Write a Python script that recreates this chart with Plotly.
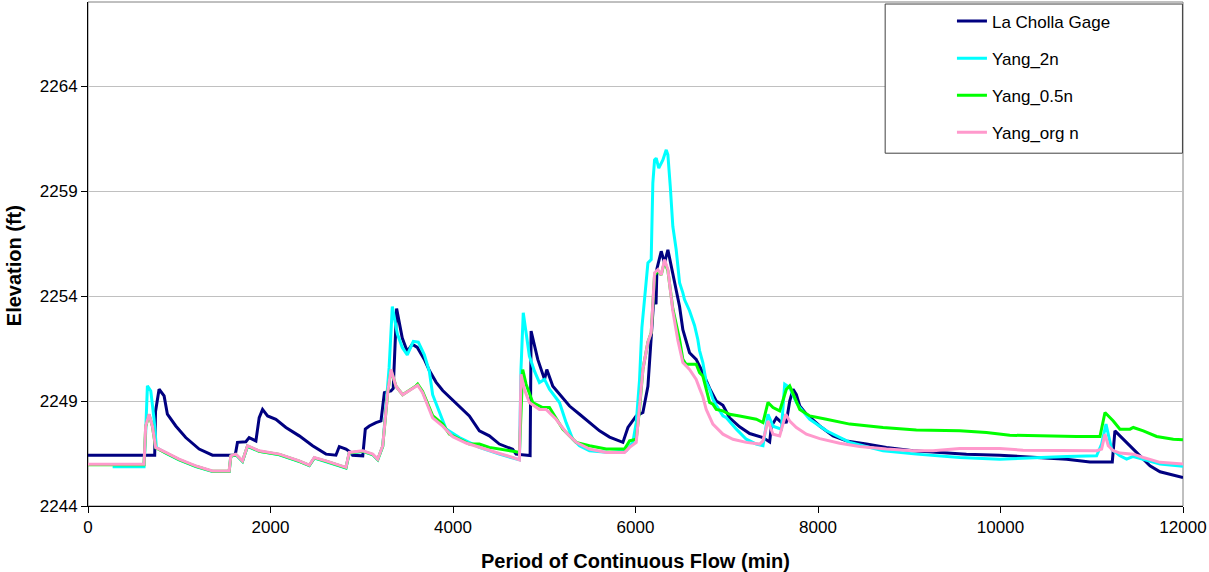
import plotly.graph_objects as go

# ---------------- data ----------------
gage_x = [0, 731, 740, 779, 834, 870, 962, 1071, 1218, 1364, 1613, 1638, 1730, 1766, 1840, 1876, 1913, 1968,
          2059, 2169, 2315, 2461, 2608, 2717, 2754, 2827, 2882, 2900, 3011, 3039, 3083, 3156, 3211, 3248, 3320,
          3345, 3382, 3444, 3499, 3554, 3609, 3686, 3741, 3814, 3887, 3960, 4069, 4179, 4289, 4398, 4508, 4654,
          4691, 4818, 4845, 4856, 4929, 5003, 5028, 5094, 5167, 5277, 5387, 5496, 5606, 5716, 5862, 5917, 6008,
          6081, 6136, 6190, 6215, 6225, 6235, 6282, 6318, 6355, 6409, 6483, 6519, 6592, 6665, 6738, 6812, 6885,
          6958, 7031, 7141, 7251, 7397, 7470, 7489, 7544, 7599, 7653, 7690, 7727, 7763, 7800, 7873, 8019, 8165,
          8311, 8530, 8750, 9042, 9334, 9627, 9992, 10358, 10724, 10980, 11225, 11254, 11309, 11419, 11528,
          11638, 11748, 11894, 12000]
gage_y = [2246.42, 2246.42, 2248.5, 2249.56, 2249.24, 2248.37, 2247.81, 2247.26, 2246.71, 2246.42, 2246.42,
          2247.03, 2247.06, 2247.26, 2247.1, 2248.21, 2248.6, 2248.29, 2248.13, 2247.74, 2247.34, 2246.87,
          2246.47, 2246.42, 2246.83, 2246.71, 2246.55, 2246.42, 2246.39, 2247.66, 2247.81, 2247.97, 2248.05,
          2249.4, 2249.48, 2249.6, 2253.4, 2252.0, 2251.36, 2251.7, 2251.55, 2250.98, 2250.45, 2249.9, 2249.5,
          2249.2, 2248.76, 2248.29, 2247.58, 2247.34, 2246.95, 2246.7, 2246.47, 2246.4, 2246.4, 2252.33,
          2250.98, 2250.03, 2250.5, 2249.7, 2249.32, 2248.76, 2248.37, 2247.99, 2247.58, 2247.28, 2247.03,
          2247.74, 2248.29, 2248.45, 2249.7, 2253.2, 2255.0, 2253.6, 2255.3, 2256.13, 2255.58, 2256.2, 2255.1,
          2253.5, 2252.4, 2251.3, 2250.98, 2250.35, 2249.6, 2249.0, 2248.8, 2248.2, 2247.77, 2247.45, 2247.26,
          2247.05, 2247.8, 2248.2, 2247.98, 2248.0, 2249.0, 2249.56, 2249.3, 2248.76, 2248.37, 2247.81,
          2247.34, 2247.1, 2246.95, 2246.79, 2246.63, 2246.55, 2246.47, 2246.42, 2246.31, 2246.23, 2246.1,
          2246.1, 2247.58, 2247.34, 2246.87, 2246.39, 2245.91, 2245.63, 2245.47, 2245.36]

yang2n_x = [270, 614, 632, 651, 688, 724, 749, 852, 998, 1181, 1364, 1547, 1565, 1620, 1693, 1748, 1876, 2096,
            2315, 2425, 2480, 2608, 2790, 2827, 2863, 3011, 3120, 3175, 3230, 3266, 3300, 3335, 3390, 3444,
            3499, 3565, 3620, 3686, 3741, 3777, 3850, 3924, 4070, 4289, 4508, 4691, 4728, 4745, 4770, 4801,
            4837, 4892, 4947, 5003, 5057, 5167, 5240, 5313, 5386, 5496, 5716, 5898, 5971, 6008, 6044, 6070,
            6099, 6136, 6172, 6190, 6209, 6227, 6255, 6300, 6337, 6355, 6381, 6409, 6446, 6483, 6519, 6537,
            6592, 6647, 6683, 6702, 6738, 6775, 6812, 6848, 6885, 6958, 6995, 7105, 7214, 7324, 7397, 7452,
            7507, 7562, 7599, 7635, 7690, 7763, 7800, 7910, 8092, 8348, 8713, 9078, 9553, 9992, 10358, 10724,
            11053, 11108, 11156, 11218, 11309, 11382, 11455, 11565, 11748, 12000]
yang2n_y = [2245.87, 2245.87, 2247.5, 2249.72, 2249.48, 2248.13, 2246.79, 2246.52, 2246.2, 2245.88, 2245.64,
            2245.64, 2246.36, 2246.44, 2246.12, 2246.84, 2246.6, 2246.44, 2246.12, 2245.92, 2246.28, 2246.12,
            2245.86, 2245.81, 2246.52, 2246.6, 2246.44, 2246.2, 2246.84, 2248.93, 2250.6, 2253.5, 2252.2,
            2251.55, 2251.2, 2251.84, 2251.8, 2251.2, 2250.4, 2249.3, 2248.45, 2247.66, 2247.26, 2246.79,
            2246.47, 2246.23, 2246.2, 2250.5, 2253.2, 2252.25, 2251.14, 2250.43, 2249.88, 2250.03, 2249.56,
            2248.93, 2247.97, 2247.18, 2246.87, 2246.63, 2246.55, 2246.63, 2247.03, 2247.97, 2250.0, 2252.5,
            2253.9, 2255.57, 2255.73, 2259.38, 2260.48, 2260.56, 2260.09, 2260.48, 2260.96, 2260.72, 2259.22,
            2257.32, 2256.2, 2254.63, 2254.15, 2253.83, 2253.3, 2252.6, 2251.93, 2251.4, 2250.83, 2249.9,
            2249.56, 2249.1, 2248.8, 2248.29, 2248.2, 2247.66, 2247.18, 2246.95, 2246.87, 2248.37, 2247.8,
            2247.7, 2247.66, 2249.8, 2249.64, 2248.93, 2248.69, 2248.13, 2247.58, 2247.03, 2246.63, 2246.47,
            2246.31, 2246.23, 2246.31, 2246.36, 2246.39, 2246.95, 2247.9, 2246.71, 2246.39, 2246.23, 2246.36,
            2246.23, 2246.0, 2245.89]

yang05n_x = [0, 614, 632, 669, 706, 742, 852, 998, 1181, 1364, 1547, 1565, 1620, 1693, 1748, 1876, 2096, 2315,
             2425, 2480, 2608, 2790, 2827, 2863, 3011, 3120, 3175, 3230, 3284, 3320, 3375, 3448, 3521, 3594,
             3613, 3667, 3777, 3887, 3960, 4179, 4289, 4398, 4691, 4728, 4764, 4801, 4874, 4983, 5057, 5203,
             5349, 5496, 5679, 5880, 5935, 6008, 6044, 6081, 6136, 6172, 6209, 6246, 6282, 6318, 6355, 6409,
             6483, 6519, 6555, 6665, 6702, 6738, 6775, 6812, 6848, 6885, 6958, 7031, 7141, 7324, 7397, 7452,
             7507, 7580, 7653, 7690, 7800, 7910, 8092, 8348, 8713, 9078, 9553, 9846, 10102, 10358, 10833,
             11090, 11145, 11236, 11309, 11419, 11455, 11565, 11711, 11894, 12000]
yang05n_y = [2245.97, 2245.97, 2247.78, 2248.35, 2247.79, 2246.77, 2246.53, 2246.21, 2245.89, 2245.65,
             2245.65, 2246.37, 2246.45, 2246.13, 2246.85, 2246.61, 2246.45, 2246.13, 2245.93, 2246.29,
             2246.13, 2245.87, 2245.82, 2246.53, 2246.61, 2246.45, 2246.21, 2246.85, 2249.38, 2250.48,
             2249.7, 2249.3, 2249.5, 2249.72, 2249.8, 2249.45, 2248.3, 2247.9, 2247.42, 2246.95, 2246.95,
             2246.79, 2246.58, 2246.55, 2250.5, 2249.8, 2248.93, 2248.69, 2248.69, 2247.66, 2247.03, 2246.87,
             2246.71, 2246.71, 2247.1, 2247.18, 2248.6, 2250.5, 2251.8, 2252.25, 2255.0, 2255.2, 2255.0,
             2255.65, 2255.2, 2253.4, 2251.93, 2250.98, 2250.75, 2250.75, 2250.35, 2250.19, 2249.56, 2248.93,
             2248.85, 2248.6, 2248.53, 2248.37, 2248.29, 2248.13, 2247.97, 2248.93, 2248.69, 2248.53, 2249.56,
             2249.72, 2248.6, 2248.29, 2248.13, 2247.9, 2247.74, 2247.62, 2247.58, 2247.5, 2247.37, 2247.34,
             2247.31, 2247.31, 2248.45, 2248.05, 2247.66, 2247.66, 2247.74, 2247.58, 2247.31, 2247.18, 2247.15]

yangorg_x = [0, 614, 632, 669, 706, 742, 852, 998, 1181, 1364, 1547, 1565, 1620, 1693, 1748, 1876, 2096, 2315,
             2425, 2480, 2608, 2790, 2827, 2863, 3011, 3120, 3175, 3230, 3284, 3320, 3375, 3448, 3521, 3594,
             3613, 3667, 3777, 3887, 3997, 4143, 4289, 4472, 4655, 4728, 4745, 4782, 4837, 4947, 5020, 5130,
             5240, 5349, 5496, 5679, 5880, 5935, 6008, 6044, 6081, 6136, 6172, 6209, 6246, 6282, 6318, 6355,
             6409, 6464, 6519, 6592, 6665, 6702, 6738, 6775, 6848, 6958, 7068, 7214, 7361, 7397, 7452, 7507,
             7580, 7646, 7690, 7763, 7873, 8019, 8238, 8457, 8750, 9042, 9261, 9553, 9992, 10247, 10724, 11053,
             11108, 11145, 11181, 11236, 11309, 11455, 11565, 11748, 12000]
yangorg_y = [2245.99, 2245.99, 2247.8, 2248.37, 2247.81, 2246.79, 2246.55, 2246.23, 2245.91, 2245.67, 2245.67,
             2246.39, 2246.47, 2246.15, 2246.87, 2246.63, 2246.47, 2246.15, 2245.95, 2246.31, 2246.15, 2245.89,
             2245.84, 2246.55, 2246.63, 2246.47, 2246.23, 2246.87, 2249.4, 2250.5, 2249.7, 2249.3, 2249.5,
             2249.7, 2249.75, 2249.4, 2248.2, 2247.8, 2247.3, 2247.0, 2246.79, 2246.55, 2246.31, 2246.2,
             2250.27, 2249.56, 2248.93, 2248.6, 2248.6, 2248.13, 2247.5, 2247.03, 2246.71, 2246.55, 2246.55,
             2246.79, 2247.03, 2248.6, 2250.5, 2251.8, 2252.25, 2255.1, 2255.26, 2255.0, 2255.73, 2255.26,
             2253.3, 2251.9, 2250.83, 2250.5, 2250.03, 2249.6, 2249.2, 2248.6, 2247.9, 2247.42, 2247.18,
             2247.03, 2246.95, 2247.1, 2248.05, 2247.42, 2247.34, 2248.37, 2248.05, 2247.74, 2247.42, 2247.21,
             2246.99, 2246.83, 2246.71, 2246.63, 2246.63, 2246.74, 2246.74, 2246.66, 2246.63, 2246.63, 2246.71,
             2247.42, 2246.87, 2246.63, 2246.52, 2246.47, 2246.31, 2246.08, 2246.0]

series_names = ["La Cholla Gage", "Yang_2n", "Yang_0.5n", "Yang_org n"]
series_colors = ["#000080", "#00FFFF", "#00FF00", "#FF99CC"]
x_ticks = [0, 2000, 4000, 6000, 8000, 10000, 12000]
y_ticks = [2244, 2249, 2254, 2259, 2264]

# ---------------- figure ----------------
FONT = "Liberation Sans, Arial, sans-serif"
fig = go.Figure()
all_x = [gage_x, yang2n_x, yang05n_x, yangorg_x]
all_y = [gage_y, yang2n_y, yang05n_y, yangorg_y]
for i, (name, color) in enumerate(zip(series_names, series_colors)):
    fig.add_trace(go.Scatter(x=all_x[i], y=all_y[i], mode="lines", name=name,
                             legendgroup=f"g{i}",
                             line=dict(color=color, width=3)))

fig.update_layout(
    width=1209, height=572,
    margin=dict(l=88, r=26, t=2, b=66),
    paper_bgcolor="white", plot_bgcolor="white",
    font=dict(family=FONT, size=17, color="black"),
    showlegend=True,
    legend=dict(x=0.789, y=0.997, xanchor="left", yanchor="top",
                bgcolor="rgba(0,0,0,0)", borderwidth=0,
                font=dict(family=FONT, size=17, color="black"),
                tracegroupgap=12, itemwidth=30),
    xaxis=dict(range=[0, 12000], tickvals=x_ticks, ticktext=[str(v) for v in x_ticks],
               showgrid=False, zeroline=False, showline=True, linecolor="black", linewidth=1,
               ticks="outside", ticklen=6, tickcolor="black",
               tickfont=dict(family=FONT, size=17, color="black")),
    yaxis=dict(range=[2244, 2268], tickvals=y_ticks, ticktext=[str(v) for v in y_ticks],
               showgrid=True, gridcolor="#C0C0C0", gridwidth=1, zeroline=False,
               showline=True, linecolor="black", linewidth=1,
               ticks="outside", ticklen=6, tickcolor="black",
               tickfont=dict(family=FONT, size=17, color="black")),
    shapes=[
        dict(type="rect", xref="paper", yref="paper", x0=0, x1=1, y0=0, y1=1,
             line=dict(color="#808080", width=1), fillcolor="rgba(0,0,0,0)", layer="below"),
        dict(type="rect", xref="paper", yref="paper", x0=0.728, x1=0.9995, y0=0.7, y1=0.996,
             line=dict(color="#404040", width=1), fillcolor="white", layer="above"),
    ],
    annotations=[
        dict(text="<b>Period of Continuous Flow (min)</b>", xref="paper", yref="paper",
             x=0.5, y=-0.109, xanchor="center", yanchor="middle", showarrow=False,
             font=dict(family=FONT, size=20, color="black")),
        dict(text="<b>Elevation (ft)</b>", xref="paper", yref="paper", textangle=-90,
             x=-0.0675, y=0.476, xanchor="center", yanchor="middle", showarrow=False,
             font=dict(family=FONT, size=20, color="black")),
    ],
)

fig.write_html("out.html")
